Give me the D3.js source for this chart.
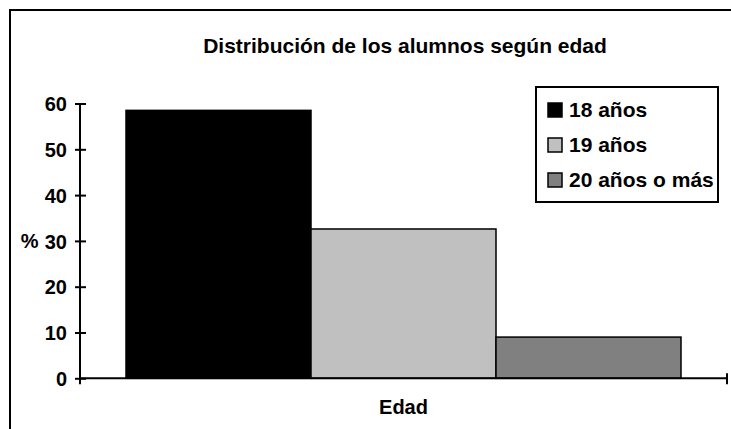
<!DOCTYPE html>
<html>
<head>
<meta charset="utf-8">
<script src="https://cdn.jsdelivr.net/npm/d3@7"></script>
<style>
html,body{margin:0;padding:0;background:#fff;}
svg{display:block;font-family:"Liberation Sans",Arial,sans-serif;font-weight:bold;}
</style>
</head>
<body>
<svg id="chart" width="731" height="429"></svg>
<script>
const categories = ["18 años", "19 años", "20 años o más"];
const values = [58.5, 32.6, 9.0];
const colors = ["#000000", "#c0c0c0", "#808080"];
const yTicks = [0, 10, 20, 30, 40, 50, 60];
const title = "Distribución de los alumnos según edad";
const xTitle = "Edad";
const yTitle = "%";

const svg = d3.select("#chart");
const plot = {left: 80, right: 727, top: 103.5, bottom: 378.3};
const FS = 20;

// outer border
svg.append("rect").attr("x", 10).attr("y", 10).attr("width", 740).attr("height", 440)
  .attr("fill", "none").attr("stroke", "#000").attr("stroke-width", 2);

const y = d3.scaleLinear().domain([0, 60]).range([plot.bottom, plot.top]);
const outer = d3.scaleBand().domain(["Edad"]).range([plot.left, plot.right]);
const inner = d3.scaleBand().domain(categories).range([plot.left + 46, plot.right - 46]).padding(0);

// bars
svg.append("g").selectAll("rect").data(categories).join("rect")
  .attr("x", d => inner(d))
  .attr("y", (d, i) => y(values[i]))
  .attr("width", inner.bandwidth())
  .attr("height", (d, i) => y(0) - y(values[i]))
  .attr("fill", (d, i) => colors[i])
  .attr("stroke", "#000").attr("stroke-width", 1.5);

// y axis
const yAxis = svg.append("g").attr("transform", `translate(${plot.left},0)`)
  .call(d3.axisLeft(y).tickValues(yTicks).tickSize(5).tickPadding(8).tickFormat(d3.format("d")));
yAxis.select(".domain").attr("stroke-width", 2).attr("d", `M0,${plot.top}V${plot.bottom}`);
yAxis.selectAll(".tick line").attr("x1", -5).attr("x2", 6).attr("stroke-width", 2);
yAxis.selectAll(".tick text").attr("font-size", FS).attr("font-weight", "bold").attr("fill", "#000")
  .attr("font-family", "Liberation Sans, Arial, sans-serif").attr("dy", "0.36em");

// x axis
const xAxis = svg.append("g").attr("transform", `translate(0,${plot.bottom})`)
  .call(d3.axisBottom(outer).tickSize(0).tickFormat(""));
xAxis.select(".domain").attr("stroke-width", 2).attr("d", `M${plot.left},0H${plot.right}`);
xAxis.selectAll(".edge").data([plot.left, plot.right]).join("line")
  .attr("x1", d => d).attr("x2", d => d).attr("y1", -5).attr("y2", 6)
  .attr("stroke", "#000").attr("stroke-width", 2);

// titles
svg.append("text").attr("x", 405).attr("y", 52.5).attr("text-anchor", "middle")
  .attr("font-size", 21).text(title);
svg.append("text").attr("x", (plot.left + plot.right) / 2).attr("y", 414).attr("text-anchor", "middle")
  .attr("font-size", FS).text(xTitle);
svg.append("text").attr("x", 38.5).attr("y", y(30)).attr("dy", "0.36em").attr("text-anchor", "end")
  .attr("font-size", FS).text(yTitle);

// legend
const lg = svg.append("g").attr("transform", "translate(536,87)");
lg.append("rect").attr("x", 0).attr("y", 0).attr("width", 182).attr("height", 115)
  .attr("fill", "#fff").attr("stroke", "#000").attr("stroke-width", 2);
const items = lg.selectAll(".item").data(categories).join("g")
  .attr("transform", (d, i) => `translate(12,${30 + i * 35})`);
items.append("rect").attr("x", 0).attr("y", -14).attr("width", 14).attr("height", 14)
  .attr("fill", (d, i) => colors[i]).attr("stroke", "#000").attr("stroke-width", 1.5);
items.append("text").attr("x", 21).attr("y", 0)
  .attr("font-size", 21).text(d => d);
</script>
</body>
</html>
